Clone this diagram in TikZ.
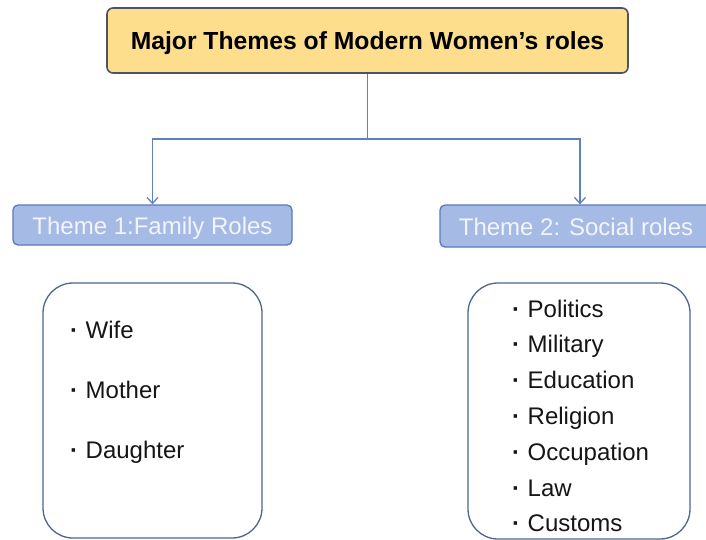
\documentclass[tikz,border=0pt]{standalone}
\usepackage{fontspec}
\setmainfont{Liberation Sans}
\usetikzlibrary{arrows.meta}

\definecolor{titlefill}{HTML}{FDDE8C}
\definecolor{titleedge}{HTML}{4A5466}
\definecolor{themefill}{HTML}{A5BAE5}
\definecolor{themeedge}{HTML}{5C79B7}
\definecolor{themetext}{HTML}{F2F5FB}
\definecolor{linkcol}{HTML}{5E81C2}
\definecolor{listedge}{HTML}{4F668E}
\definecolor{itemtext}{HTML}{151515}

\tikzset{
  titlebox/.style={draw=titleedge, line width=1.6pt, fill=titlefill, rounded corners=6pt,
    minimum width=521pt, minimum height=65pt, inner sep=0pt,
    text height=17.7pt, text depth=0pt,
    font=\fontsize{24.7}{28}\selectfont\bfseries, text=black},
  themebox/.style={draw=themeedge, line width=1.3pt, fill=themefill, rounded corners=5pt,
    minimum height=40pt, inner sep=0pt, text height=20pt, text depth=0.8pt,
    font=\fontsize{24}{28}\selectfont, text=themetext},
  listbox/.style={draw=listedge, line width=1.3pt, rounded corners=30pt, inner sep=0pt},
  item/.style={anchor=base west, inner sep=0pt, text=itemtext,
    font=\fontsize{24}{28}\selectfont},
  link/.style={draw=linkcol, line width=1.5pt},
  linkarrow/.style={link, -{Straight Barb[length=6pt,width=11pt,line width=1.3pt]}}
}
\newcommand{\bulleted}[1]{{\bfseries ·}\hspace{7.5pt}#1}

\begin{document}
\begin{tikzpicture}[x=1pt,y=-1pt]
  \useasboundingbox[fill=white] (0,0) rectangle (706,539);

  % heading
  \node[titlebox] (title) at (367.5,40.5) {Major Themes of Modern Women’s roles};

  % the two theme headers
  \node[themebox, minimum width=279pt] (theme1) at (152.5,225) {Theme 1:Family Roles};
  \node[themebox, minimum width=280pt, minimum height=42pt] (theme2) at (580,226) {\hspace*{-8pt}Theme 2: Social roles};

  % branching connectors
  \coordinate (split) at (367.5,139);
  \draw[link] (title.south) -- (split);
  \draw[linkarrow] (split) -| (theme1.north);
  \draw[linkarrow] (split) -| (theme2.north);

  % list frames
  \node[listbox, minimum width=219pt, minimum height=255pt] (famlist) at (152.5,410.5) {};
  \node[listbox, minimum width=222pt, minimum height=256pt] (soclist) at (579,411) {};

  % family roles
  \node[item] (wife)     at (70,338) {\bulleted{Wife}};
  \node[item] (mother)   at (70,398) {\bulleted{Mother}};
  \node[item] (daughter) at (70,458) {\bulleted{Daughter}};

  % social roles
  \node[item] (politics)   at (512,317)   {\bulleted{Politics}};
  \node[item] (military)   at (512,352.8) {\bulleted{Military}};
  \node[item] (education)  at (512,388.6) {\bulleted{Education}};
  \node[item] (religion)   at (512,424.4) {\bulleted{Religion}};
  \node[item] (occupation) at (512,460.2) {\bulleted{Occupation}};
  \node[item] (law)        at (512,496)   {\bulleted{Law}};
  \node[item] (customs)    at (512,531.8) {\bulleted{Customs}};
\end{tikzpicture}
\end{document}
